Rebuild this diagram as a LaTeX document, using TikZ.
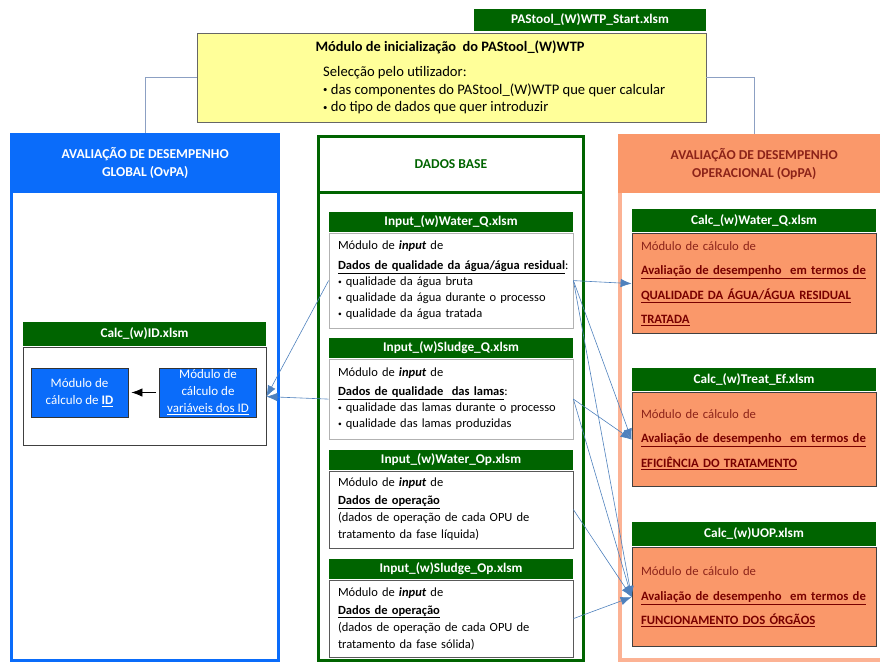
\documentclass[tikz,border=0pt]{standalone}
\usepackage{fontspec}
\setmainfont{Carlito}
\usetikzlibrary{positioning, arrows.meta}
\tikzset{>={Latex[length=11pt,width=8.5pt]}}
\definecolor{xlgreen}{RGB}{0,100,0}
\definecolor{ovblue}{RGB}{10,108,250}
\definecolor{oporange}{RGB}{250,152,106}
\definecolor{opline}{RGB}{252,178,148}
\definecolor{inityellow}{RGB}{255,255,153}
\definecolor{optext}{RGB}{140,35,25}
\definecolor{opdark}{RGB}{120,0,0}
\definecolor{linkblue}{RGB}{79,129,189}
\definecolor{tieblue}{RGB}{140,160,195}
\newcommand{\bul}{\raisebox{1.5pt}{\scalebox{0.6}{\textbullet}}\ }

\begin{document}
\begin{tikzpicture}[x=1pt,y=-1pt,node distance=1pt,
    every node/.style={font=\fontsize{12.5}{16}\selectfont},
    filehead/.style={fill=xlgreen, text=white, font=\fontsize{13.3}{15}\selectfont\bfseries, minimum width=244pt, minimum height=20pt, inner sep=0pt},
    inbox/.style={draw=#1, thick, fill=white, text width=226pt, inner xsep=9pt, align=left},
    calcbox/.style={draw=black!75, thick, fill=oporange, text=optext, text width=226pt, inner xsep=9pt, align=left, font=\fontsize{12.7}{24.5}\selectfont},
    idbox/.style={draw=black!80, thick, fill=ovblue, text=white, align=center, minimum width=97pt, minimum height=49pt, inner sep=0pt, font=\fontsize{13}{17}\selectfont},
    colhead/.style={anchor=north west, align=center, font=\fontsize{13.6}{18}\selectfont\bfseries},
    feed/.style={->, draw=linkblue, semithick},
    tie/.style={draw=tieblue, semithick}]
    \useasboundingbox (0,0) rectangle (880,664);

    % top: start module
    \node[filehead, minimum width=232pt, minimum height=22pt] (start) at (590,20) {PAStool\_(W)WTP\_Start.xlsm};
    \node[draw=black!60, fill=inityellow, minimum width=509pt, minimum height=89pt] (init) at (451.5,77.5) {};
    \node[font=\fontsize{14.4}{16}\selectfont\bfseries] (inittitle) at (450,47) {Módulo de inicialização\ \ do PAStool\_(W)WTP};
    \node[anchor=north west, align=left, inner sep=0pt, font=\fontsize{14.6}{17.8}\selectfont] (initlist) at (323,66) {Selecção pelo utilizador:\\ \bul das componentes do PAStool\_(W)WTP que quer calcular\\ \bul do tipo de dados que quer introduzir};

    % columns
    \node[draw=ovblue, line width=3pt, anchor=north west, minimum width=267pt, minimum height=526pt, inner sep=0pt] (ovpa) at (10,133) {};
    \node[colhead, fill=ovblue, text=white, minimum width=270pt, minimum height=60pt] (ovpahead) at (10,133) {AVALIAÇÃO DE DESEMPENHO\\GLOBAL (OvPA)};
    \node[draw=xlgreen, line width=3pt, anchor=north west, minimum width=265pt, minimum height=524pt, inner sep=0pt] (base) at (317,135) {};
    \node[colhead, draw=xlgreen, line width=3pt, text=xlgreen, minimum width=265pt, minimum height=55.5pt] (basehead) at (317,135) {DADOS BASE};
    \node[draw=opline, line width=4pt, anchor=north west, minimum width=268pt, minimum height=524pt, inner sep=0pt] (oppa) at (618,134) {};
    \node[colhead, fill=oporange, text=optext, minimum width=272pt, minimum height=59pt] (oppahead) at (618,134) {AVALIAÇÃO DE DESEMPENHO\\OPERACIONAL (OpPA)};

    \draw[tie] (init.west) -| (ovpahead.north);
    \draw[tie] (init.east) -| (oppahead.north);

    % OvPA
    \node[filehead, minimum width=243pt, minimum height=24pt] (cidhead) at (144.5,334) {Calc\_(w)ID.xlsm};
    \node[draw=black!75, thick, fill=white, minimum width=243pt, minimum height=98pt, below=of cidhead] (cid) {};
    \node[idbox] (idcalc) at (79.5,392.5) {Módulo de\\cálculo de \underline{\textbf{ID}}};
    \node[idbox] (idvar) at (208,392.5) {Módulo de\\cálculo de\\\underline{variáveis dos ID}};
    \draw[->, thick, shorten <=3pt, shorten >=3pt] (idvar) -- (idcalc);

    % dados base
    \node[filehead] (wqhead) at (451,221.5) {Input\_(w)Water\_Q.xlsm};
    \node[inbox=black!30, minimum height=95pt, below=of wqhead] (wq) {Módulo de \textbf{\textit{input}} de\\[4pt]
        \mbox{\underline{\textbf{Dados de qualidade da água/água residual}}:}\\
        \mbox{\bul qualidade da água bruta}\\
        \mbox{\bul qualidade da água durante o processo}\\
        \mbox{\bul qualidade da água tratada}};
    \node[filehead] (sqhead) at (451,347.5) {Input\_(w)Sludge\_Q.xlsm};
    \node[inbox=black!30, minimum height=80pt, below=of sqhead] (sq) {Módulo de \textbf{\textit{input}} de\\[3pt]
        \underline{\textbf{Dados de qualidade\ \ das lamas}}:\\
        \mbox{\bul qualidade das lamas durante o processo}\\
        \mbox{\bul qualidade das lamas produzidas}};
    \node[filehead] (wohead) at (451,459.5) {Input\_(w)Water\_Op.xlsm};
    \node[inbox=black!65, minimum height=77pt, below=of wohead] (wo) {Módulo de \textbf{\textit{input}} de\\[2pt]
        \underline{\textbf{Dados de operação}}\\[1pt]
        (dados de operação de cada OPU de\\[1pt]
        tratamento da fase líquida)};
    \node[filehead] (sohead) at (451,568.5) {Input\_(w)Sludge\_Op.xlsm};
    \node[inbox=black!65, minimum height=77pt, below=of sohead] (so) {Módulo de \textbf{\textit{input}} de\\[2pt]
        \underline{\textbf{Dados de operação}}\\[1pt]
        (dados de operação de cada OPU de\\[1pt]
        tratamento da fase sólida)};

    % OpPA
    \node[filehead, minimum height=23pt] (cwqhead) at (754,220.5) {Calc\_(w)Water\_Q.xlsm};
    \node[calcbox, minimum height=100pt, below=of cwqhead] (cwq) {Módulo de cálculo de\\
        \textcolor{opdark}{\underline{\textbf{Avaliação de desempenho\ \ em termos de}}}\\
        \textcolor{opdark}{\underline{\textbf{QUALIDADE DA ÁGUA/ÁGUA RESIDUAL}}}\\
        \textcolor{opdark}{\underline{\textbf{TRATADA}}}};
    \node[filehead, minimum height=23pt] (ctehead) at (754,379.5) {Calc\_(w)Treat\_Ef.xlsm};
    \node[calcbox, minimum height=94pt, below=of ctehead] (cte) {Módulo de cálculo de\\
        \textcolor{opdark}{\underline{\textbf{Avaliação de desempenho\ \ em termos de}}}\\
        \textcolor{opdark}{\underline{\textbf{EFICIÊNCIA DO TRATAMENTO}}}};
    \node[filehead, minimum height=24pt] (cuophead) at (754,534) {Calc\_(w)UOP.xlsm};
    \node[calcbox, minimum height=99pt, below=of cuophead] (cuop) {Módulo de cálculo de\\
        \textcolor{opdark}{\underline{\textbf{Avaliação de desempenho\ \ em termos de}}}\\
        \textcolor{opdark}{\underline{\textbf{FUNCIONAMENTO DOS ÓRGÃOS}}}};

    % data flows
    \draw[feed] (wq.west) -- (cid.east);
    \draw[feed] (sq.west) -- (cid.east);
    \draw[feed] (wq.east) -- (cwq.west);
    \draw[feed] (wq.east) -- (cte.west);
    \draw[feed] (wq.east) -- (cuop.west);
    \draw[feed] (sq.east) -- (cte.west);
    \draw[feed] (sq.east) -- (cuop.west);
    \draw[feed] (wo.east) -- (cuop.west);
    \draw[feed] (so.east) -- (cuop.west);
\end{tikzpicture}
\end{document}
